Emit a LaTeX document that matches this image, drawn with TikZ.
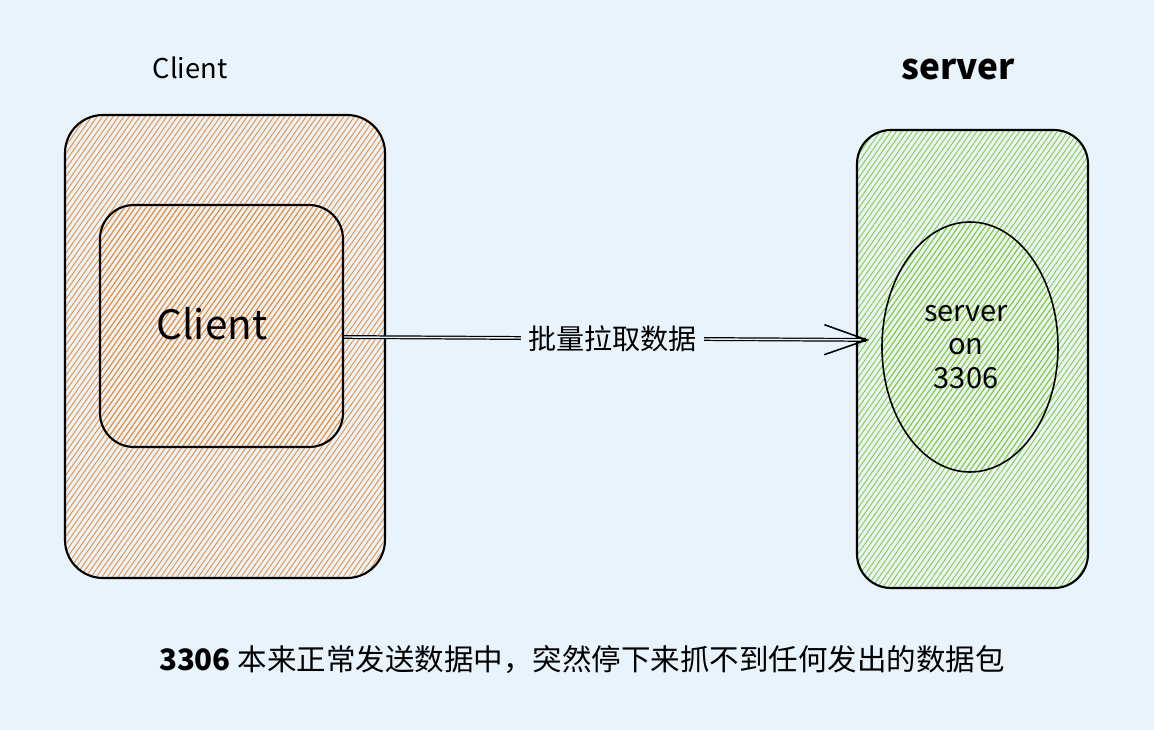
\documentclass[tikz,border=0pt]{standalone}
\usepackage{fontspec}
\setmainfont{Noto Sans CJK SC}
\usetikzlibrary{arrows.meta,patterns.meta,shapes.geometric}

\definecolor{bgblue}{HTML}{E8F3FC}
\definecolor{hatchorange}{HTML}{F28A2E}
\definecolor{hatchgreen}{HTML}{88CC30}
\newlength\unitpx
\setlength\unitpx{0.02cm}

\tikzset{
  box/.style={draw, line width=1.2pt, rounded corners=38\unitpx, inner sep=0pt},
  orangehatch/.style={pattern={Lines[angle=55,distance=2.5pt,line width=0.5pt]}, pattern color=hatchorange},
  greenhatch/.style={pattern={Lines[angle=55,distance=2.5pt,line width=0.5pt]}, pattern color=hatchgreen},
  title/.style={font=\fontsize{15.5}{18}\selectfont},
  link/.style={line width=2.2pt, -{Straight Barb[length=0.85cm,width=0.6cm,line width=0.9pt 0]}},
  linkgap/.style={bgblue, line width=0.8pt},
  linklabel/.style={fill=bgblue, text=black, inner sep=4pt, font=\fontsize{16}{18}\selectfont}
}

\begin{document}
\begin{tikzpicture}[x=\unitpx, y=-\unitpx]

  \fill[bgblue] (0,0) rectangle (1154,730);
  \useasboundingbox (0,0) rectangle (1154,730);

  % client side
  \node[box, orangehatch, minimum width=320\unitpx, minimum height=463\unitpx] (clientbox) at (225,346.5) {};
  \node[box, orangehatch, rounded corners=34\unitpx, minimum width=243\unitpx, minimum height=242\unitpx] (clientapp) at (221.5,326) {};
  \node[title] (clienttitle) at (190,68) {Client};
  \node[font=\fontsize{23}{26}\selectfont] (clientname) at (212,324) {Client};

  % server side
  \node[box, greenhatch, rounded corners=34\unitpx, minimum width=231\unitpx, minimum height=458\unitpx] (serverbox) at (972.5,359) {};
  \node[ellipse, draw, line width=0.9pt, greenhatch, minimum width=176\unitpx, minimum height=250\unitpx] (serverdb) at (970,347) {};
  \node[font=\bfseries\fontsize{20}{22}\selectfont] (servertitle) at (958,70) {server};
  \node[align=center, font=\fontsize{16.5}{19}\selectfont] (servername) at (966,347) {server\\on\\3306};

  % request
  \draw[link, shorten >=12\unitpx] ([yshift=-11\unitpx]clientapp.east) -- ([yshift=7\unitpx]serverdb.west);
  \draw[linkgap, shorten >=20\unitpx] ([yshift=-11\unitpx]clientapp.east) -- node[linklabel] (pulllabel) {批量拉取数据} ([yshift=7\unitpx]serverdb.west);

  \node[font=\fontsize{16.8}{19}\selectfont] (caption) at (582,660) {\textbf{3306} 本来正常发送数据中，突然停下来抓不到任何发出的数据包};

\end{tikzpicture}
\end{document}
